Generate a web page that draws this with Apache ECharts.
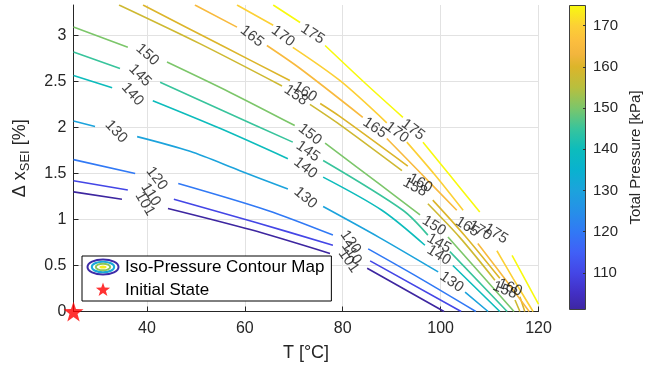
<!DOCTYPE html>
<html>
<head>
<meta charset="utf-8">
<script src="https://cdn.jsdelivr.net/npm/echarts@6/dist/echarts.min.js"></script>
<style>
  html, body { margin: 0; background: #fff; }
  #chart { width: 646px; height: 374px; }
</style>
</head>
<body>
<div id="chart"></div>
<script>
// contour levels [kPa]
const levels = [101, 110, 120, 130, 140, 145, 150, 158, 160, 165, 170, 175]

// each contour = list of segments of [T, dx_SEI],
// broken where the inline label sits
const c101 = [[[25, 1.30], [34.9, 1.22]], [[44.3, 1.12], [61.1, 0.89], [77.4, 0.63]], [[85.0, 0.47], [100.7, 0]]]
const c110 = [[[25, 1.42], [36.1, 1.32]], [[45.5, 1.22], [62.1, 0.97], [78.0, 0.72]], [[85.6, 0.55], [104.2, 0]]]
const c120 = [[[25, 1.65], [37.6, 1.50]], [[46.4, 1.39], [64.5, 1.10], [78.0, 0.83]], [[85.2, 0.68], [95.8, 0.36], [107.2, 0]]]
const c130 = [[[25, 2.07], [29.4, 2.01]], [[38.0, 1.90], [48.8, 1.74], [59.0, 1.53], [68.8, 1.33]], [[76.0, 1.14], [87.6, 0.80], [99.5, 0.43]], [[105.0, 0.21], [109.7, 0]]]
const c140 = [[[25, 2.565], [32.9, 2.43]], [[41.2, 2.29], [54.9, 1.99], [68.8, 1.66]], [[76.0, 1.46], [88.0, 1.10], [96.8, 0.72]], [[102.5, 0.50], [112.1, 0]]]
const c145 = [[[25, 2.82], [34.5, 2.64]], [[42.7, 2.49], [56.0, 2.17], [69.8, 1.84]], [[76.0, 1.64], [92.3, 1.10], [97.4, 0.83]], [[101.9, 0.65], [113.6, 0]]]
const c150 = [[[25, 3.09], [36.1, 2.87]], [[44.1, 2.71], [57.0, 2.38], [70.2, 2.02]], [[76.4, 1.83], [87.6, 1.38], [95.8, 1.05]], [[101.5, 0.81], [115.0, 0]]]
const c158 = [[[34.3, 3.33], [50.8, 2.91], [67.6, 2.45]], [[73.3, 2.25], [79.4, 2.03], [92.1, 1.53]], [[97.4, 1.17], [104.0, 0.80], [111.1, 0.34]], [[115.2, 0.125], [116.2, 0]]]
const c160 = [[[39.2, 3.33], [54.9, 2.90], [69.2, 2.51]], [[75.4, 2.26], [79.4, 2.12], [93.3, 1.58]], [[98.4, 1.21], [105.0, 0.82], [112.1, 0.36]], [[116.2, 0.16], [117.2, 0]]]
const c165 = [[[49.8, 3.33], [58.4, 3.09]], [[64.5, 2.89], [71.3, 2.64], [84.1, 2.11]], [[89.0, 1.88], [95.8, 1.51], [103.3, 1.10]], [[107.6, 0.74], [113.2, 0.35], [118.1, 0]]]
const c170 = [[[58.4, 3.33], [65.8, 3.11]], [[69.8, 2.87], [79.4, 2.51], [89.0, 2.05]], [[93.1, 1.84], [98.9, 1.48], [104.6, 1.10]], [[111.5, 0.66], [114.8, 0.36], [118.9, 0]]]
const c175 = [[[65.8, 3.33], [71.3, 3.14]], [[76.4, 2.89], [84.6, 2.48], [92.3, 2.11]], [[96.4, 1.84], [101.9, 1.48], [108.0, 1.08]], [[114.6, 0.61], [120, 0.08]]]
const contours = [c101, c110, c120, c130, c140, c145, c150, c158, c160, c165, c170, c175]

const initialState = [[25, 0]]

const xTicks = [40, 60, 80, 100, 120]
const yTicks = [0, 0.5, 1, 1.5, 2, 2.5, 3]
const cbMin = 101
const cbMax = 175
const cbTicks = [110, 120, 130, 140, 150, 160, 170]

// parula-like colormap (value -> colour)
const cmapValues = [101, 105, 110, 115, 120, 125, 130, 135, 140, 145, 150, 155, 160, 163, 166, 170, 175]
const cmapColors = ['#3d26a0', '#422fc4', '#4446e6', '#4060f7', '#3179f5', '#2690e8', '#1ca3dc', '#09b2cf', '#0dbcbc',
  '#38c49c', '#7cc66a', '#b8bf3e', '#dcb52a', '#f2b53d', '#fbbd3e', '#fcd035', '#f8fa0e']

// label tilt (deg, MATLAB clabel style) for each label of each contour
const labelAngles = [
  [-60, -55], [-57, -55], [-53, -55],
  [-47, -40, -35], [-48, -38, -32], [-45, -35, -30], [-42, -38, -32],
  [-35, -28, -22], [-32, -28, -22],
  [-38, -34, -32], [-37, -37, -32], [-33, -37, -32]
]

const font = '"Liberation Sans", Arial, Helvetica, sans-serif'
const ink = '#262626'

function hexToRgb (h) {
  return [parseInt(h.slice(1, 3), 16), parseInt(h.slice(3, 5), 16), parseInt(h.slice(5, 7), 16)]
}
function colorAt (v) {
  for (let i = 1; i < cmapValues.length; i++) {
    if (v <= cmapValues[i]) {
      const t = (v - cmapValues[i - 1]) / (cmapValues[i] - cmapValues[i - 1])
      const a = hexToRgb(cmapColors[i - 1])
      const b = hexToRgb(cmapColors[i])
      return 'rgb(' + a.map((c, k) => Math.round(c + (b[k] - c) * t)).join(',') + ')'
    }
  }
  return cmapColors[cmapColors.length - 1]
}

function joinSegments (segs) {
  const out = []
  segs.forEach((s, i) => {
    if (i) out.push(['-', '-'])
    s.forEach(p => out.push(p))
  })
  return out
}

const svg = s => 'image://data:image/svg+xml;utf8,' + encodeURIComponent(s)
const contourIcon = svg('<svg xmlns="http://www.w3.org/2000/svg" width="34" height="18" viewBox="0 0 34 18">' +
  '<ellipse cx="17" cy="9" rx="15.5" ry="7.6" fill="none" stroke="#3d2ba8" stroke-width="2"/>' +
  '<ellipse cx="17" cy="9" rx="11.2" ry="5.3" fill="none" stroke="#1aa8d8" stroke-width="2"/>' +
  '<ellipse cx="17" cy="9" rx="7.2" ry="3.3" fill="none" stroke="#8cc65a" stroke-width="2"/>' +
  '<ellipse cx="17" cy="9" rx="3.6" ry="1.6" fill="#f5ec1e"/></svg>')
const starPts = '17,1.5 18.76,6.57 24.13,6.68 19.85,9.93 21.41,15.07 17,12 12.59,15.07 14.15,9.93 9.87,6.68 15.24,6.57'
const starIcon = svg('<svg xmlns="http://www.w3.org/2000/svg" width="34" height="18" viewBox="0 0 34 18">' +
  '<polygon points="' + starPts + '" fill="#ff0000"/></svg>')
const starPath = 'path://M17,1.5L18.76,6.57L24.13,6.68L19.85,9.93L21.41,15.07L17,12L12.59,15.07L14.15,9.93L9.87,6.68L15.24,6.57Z'

const chart = echarts.init(document.getElementById('chart'))

const lineSeries = contours.map((segs, i) => ({
  name: 'Iso-Pressure Contour Map',
  type: 'line',
  xAxisIndex: 0,
  yAxisIndex: 0,
  data: joinSegments(segs),
  symbol: 'none',
  smooth: 0.3,
  connectNulls: false,
  silent: true,
  lineStyle: { color: colorAt(levels[i]), width: 1.6 },
  itemStyle: { color: colorAt(levels[i]) }
}))

// labels sit in the gaps of each contour
const labelData = []
contours.forEach((segs, i) => {
  for (let k = 1; k < segs.length; k++) {
    const a = segs[k - 1][segs[k - 1].length - 1]
    const b = segs[k][0]
    labelData.push({
      value: [(a[0] + b[0]) / 2, (a[1] + b[1]) / 2, levels[i]],
      label: { rotate: labelAngles[i][k - 1] }
    })
  }
})

const gradient = new echarts.graphic.LinearGradient(0, 1, 0, 0,
  cmapValues.map((v, i) => ({ offset: (v - cbMin) / (cbMax - cbMin), color: cmapColors[i] })))

chart.setOption({
  animation: false,
  backgroundColor: '#fff',
  grid: [
    { left: 73.5, right: 107.5, top: 5, bottom: 62.5 },
    { left: 569, top: 5, width: 17, height: 305 }
  ],
  legend: {
    data: [
      { name: 'Iso-Pressure Contour Map', icon: contourIcon },
      { name: 'Initial State', icon: starIcon }
    ],
    orient: 'vertical',
    left: 82,
    top: 256,
    itemWidth: 34,
    itemHeight: 18,
    itemGap: 5,
    padding: [2, 7, 2, 4],
    borderColor: '#000',
    borderWidth: 1,
    backgroundColor: '#fff',
    selectedMode: false,
    textStyle: { fontSize: 17, color: '#000', fontFamily: font }
  },
  xAxis: [{
    type: 'value',
    gridIndex: 0,
    min: 25,
    max: 120,
    name: 'T [°C]',
    nameLocation: 'middle',
    nameGap: 33,
    nameTextStyle: { fontSize: 18, color: ink, fontFamily: font },
    axisLine: { show: true, onZero: false, lineStyle: { color: ink } },
    axisTick: { show: true, inside: true, length: 5, customValues: xTicks, lineStyle: { color: ink } },
    axisLabel: { customValues: xTicks, fontSize: 16, color: ink, margin: 9, fontFamily: font },
    splitLine: { show: true, lineStyle: { color: '#e2e2e2' } }
  }, {
    type: 'category',
    gridIndex: 1,
    data: ['cb'],
    show: false
  }],
  yAxis: [{
    type: 'value',
    gridIndex: 0,
    min: 0,
    max: 3.33,
    name: '{a|Δ x}{b|SEI}{a| [%]}',
    nameLocation: 'middle',
    nameGap: 42,
    nameTextStyle: {
      color: ink,
      rich: {
        a: { fontSize: 18, color: ink, fontFamily: font },
        b: { fontSize: 13, color: ink, fontFamily: font, padding: [9, 0, 0, 0] }
      }
    },
    axisLine: { show: true, onZero: false, lineStyle: { color: ink } },
    axisTick: { show: true, inside: true, length: 5, customValues: yTicks, lineStyle: { color: ink } },
    axisLabel: { customValues: yTicks, fontSize: 16, color: ink, margin: 7, fontFamily: font },
    splitLine: { show: true, lineStyle: { color: '#e2e2e2' } }
  }, {
    type: 'value',
    gridIndex: 1,
    min: cbMin,
    max: cbMax,
    position: 'right',
    z: 10,
    name: 'Total Pressure [kPa]',
    nameLocation: 'middle',
    nameRotate: 90,
    nameGap: 42,
    nameTextStyle: { fontSize: 15, color: ink, fontFamily: font },
    axisLine: { show: false },
    axisTick: { show: true, inside: true, length: 3, customValues: cbTicks, lineStyle: { color: '#333' } },
    axisLabel: { customValues: cbTicks, fontSize: 15, color: ink, margin: 7, fontFamily: font },
    splitLine: { show: false }
  }],
  series: [
    ...lineSeries,
    {
      type: 'scatter',
      xAxisIndex: 0,
      yAxisIndex: 0,
      data: labelData,
      symbolSize: 0,
      silent: true,
      z: 5,
      label: {
        show: true,
        position: 'inside',
        formatter: p => String(p.value[2]),
        fontSize: 15,
        color: '#111',
        fontFamily: font
      }
    },
    {
      name: 'Initial State',
      type: 'scatter',
      xAxisIndex: 0,
      yAxisIndex: 0,
      data: initialState,
      symbol: starPath,
      symbolSize: 20,
      clip: false,
      z: 8,
      itemStyle: { color: '#ff0000' }
    },
    {
      type: 'bar',
      xAxisIndex: 1,
      yAxisIndex: 1,
      stack: 'cb',
      barWidth: '100%',
      silent: true,
      data: [cbMin],
      itemStyle: { color: 'transparent' }
    },
    {
      type: 'bar',
      xAxisIndex: 1,
      yAxisIndex: 1,
      stack: 'cb',
      barWidth: '100%',
      silent: true,
      data: [cbMax - cbMin],
      itemStyle: { color: gradient, borderColor: '#404040', borderWidth: 1 }
    }
  ]
})
</script>
</body>
</html>
